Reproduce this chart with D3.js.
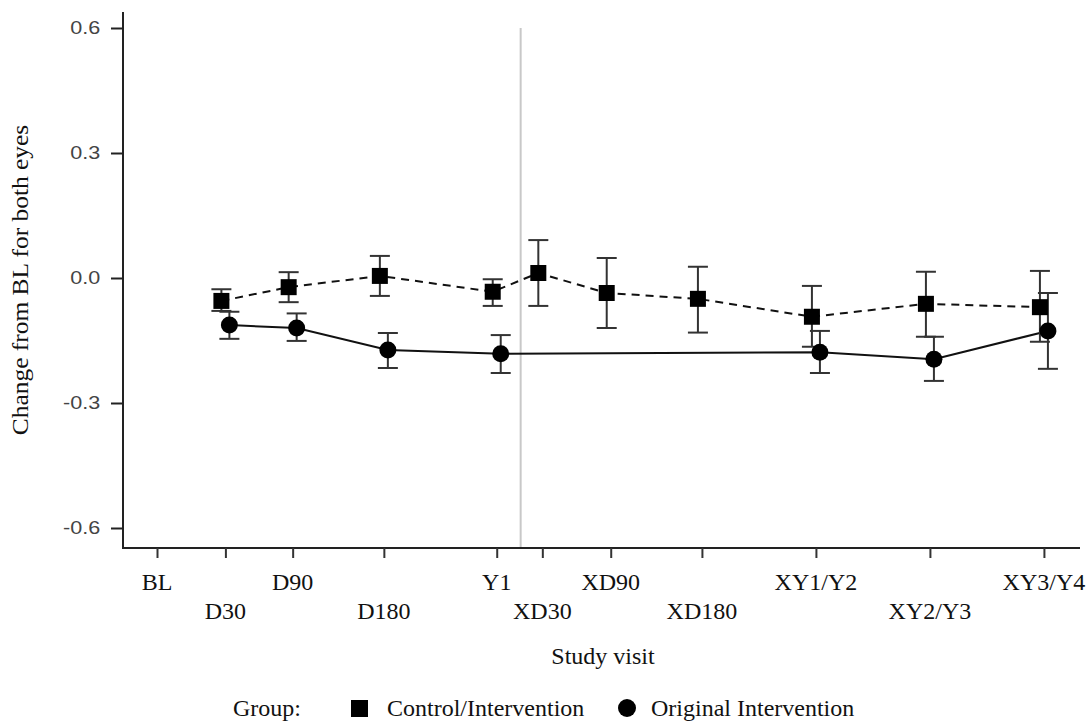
<!DOCTYPE html>
<html>
<head>
<meta charset="utf-8">
<script src="https://cdn.jsdelivr.net/npm/d3@7"></script>
<style>
  body { margin: 0; background: #fff; }
  .serif { font-family: "Liberation Serif", "Times New Roman", serif; fill: #111; font-size: 24px; }
</style>
</head>
<body>
<div id="chart"></div>
<script>
// Study visits and their spacing along the x axis
var visits = ["BL", "D30", "D90", "D180", "Y1", "XD30", "XD90", "XD180", "XY1/Y2", "XY2/Y3", "XY3/Y4"];
var visitPos = [0, 0.6, 1.19, 1.99, 2.98, 3.38, 3.98, 4.78, 5.78, 6.78, 7.78];
var crossover = 3.19;

// Control/Intervention (squares)
var ctrlMean = [null, -0.055, -0.022, 0.005, -0.033, 0.012, -0.036, -0.050, -0.093, -0.062, -0.070];
var ctrlLow  = [null, -0.079, -0.058, -0.043, -0.067, -0.067, -0.120, -0.131, -0.165, -0.141, -0.153];
var ctrlHigh = [null, -0.027, 0.014, 0.053, -0.003, 0.091, 0.048, 0.027, -0.019, 0.015, 0.017];

// Original Intervention (circles)
var origMean = [null, -0.113, -0.120, -0.173, -0.182, null, null, null, -0.178, -0.195, -0.127];
var origLow  = [null, -0.146, -0.151, -0.216, -0.228, null, null, null, -0.228, -0.247, -0.218];
var origHigh = [null, -0.081, -0.085, -0.132, -0.137, null, null, null, -0.127, -0.141, -0.036];

var yTicks = [-0.6, -0.3, 0.0, 0.3, 0.6];

var width = 1088, height = 722;
var plotLeft = 123, plotRight = 1080, plotTop = 12, plotBottom = 548;

var svg = d3.select("#chart")
    .append("svg")
    .attr("width", width)
    .attr("height", height);

svg.append("rect").attr("width", width).attr("height", height).attr("fill", "#fff");

var x = d3.scaleLinear()
    .domain([(plotLeft - 157) / 114, (plotRight - 157) / 114])
    .range([plotLeft, plotRight]);

var y = d3.scaleLinear()
    .domain([-0.6, 0.6])
    .range([528, 28]);

// crossover line
svg.append("line")
    .attr("x1", x(crossover)).attr("x2", x(crossover))
    .attr("y1", y(0.6)).attr("y2", plotBottom)
    .attr("stroke", "#c8c8c8")
    .attr("stroke-width", 2);

// y axis
var yAxis = svg.append("g")
    .attr("transform", "translate(" + plotLeft + ",0)")
    .call(d3.axisLeft(y).tickValues(yTicks).tickSize(12).tickPadding(7)
        .tickFormat(function(d) { return d3.format(".1f")(d).replace("\u2212", "-"); }));
yAxis.select(".domain").attr("d", "M0," + plotTop + "V" + (plotBottom + 1)).attr("stroke", "#222").attr("stroke-width", 2);
yAxis.selectAll(".tick line").attr("stroke", "#222").attr("stroke-width", 2);
yAxis.selectAll(".tick text")
    .attr("transform", "scale(1.2,1)")
    .style("font-family", "'Liberation Sans', Arial, sans-serif")
    .style("font-size", "18px")
    .attr("fill", "#444");

// x axis
var xAxis = svg.append("g")
    .attr("transform", "translate(0," + plotBottom + ")")
    .call(d3.axisBottom(x).tickValues(visitPos).tickSize(10).tickFormat(""));
xAxis.select(".domain").attr("d", "M" + plotLeft + ",0H" + plotRight).attr("stroke", "#222").attr("stroke-width", 2);
xAxis.selectAll(".tick line").attr("stroke", "#333").attr("stroke-width", 2);

// staggered tick labels
svg.append("g").selectAll("text")
    .data(visits)
    .join("text")
    .attr("class", "serif")
    .attr("x", function(d, i) { return x(visitPos[i]); })
    .attr("y", function(d, i) { return i % 2 == 0 ? 590 : 619; })
    .attr("text-anchor", "middle")
    .text(function(d) { return d; });

// axis titles
svg.append("text")
    .attr("class", "serif")
    .attr("x", 603).attr("y", 664)
    .attr("text-anchor", "middle")
    .text("Study visit");

svg.append("text")
    .attr("class", "serif")
    .attr("transform", "translate(28,280) rotate(-90) scale(1.06,1)")
    .attr("text-anchor", "middle")
    .text("Change from BL for both eyes");

// build series
function series(mean, low, high, shift) {
    var out = [];
    visits.forEach(function(v, i) {
        if (mean[i] != null) out.push({ px: x(visitPos[i]) + shift, m: mean[i], lo: low[i], hi: high[i] });
    });
    return out;
}
var ctrl = series(ctrlMean, ctrlLow, ctrlHigh, -4);
var orig = series(origMean, origLow, origHigh, 4);

var line = d3.line()
    .x(function(d) { return d.px; })
    .y(function(d) { return y(d.m); });

svg.append("path").datum(ctrl)
    .attr("d", line).attr("fill", "none")
    .attr("stroke", "#111").attr("stroke-width", 2)
    .attr("stroke-dasharray", "8,6");

svg.append("path").datum(orig)
    .attr("d", line).attr("fill", "none")
    .attr("stroke", "#111").attr("stroke-width", 2);

// error bars
function errBars(data) {
    var g = svg.append("g").attr("stroke", "#333").attr("stroke-width", 2);
    g.selectAll(".stem").data(data).join("line")
        .attr("x1", function(d) { return d.px; }).attr("x2", function(d) { return d.px; })
        .attr("y1", function(d) { return y(d.lo); }).attr("y2", function(d) { return y(d.hi); });
    g.selectAll(".capL").data(data).join("line")
        .attr("x1", function(d) { return d.px - 10; }).attr("x2", function(d) { return d.px + 10; })
        .attr("y1", function(d) { return y(d.lo); }).attr("y2", function(d) { return y(d.lo); });
    g.selectAll(".capH").data(data).join("line")
        .attr("x1", function(d) { return d.px - 10; }).attr("x2", function(d) { return d.px + 10; })
        .attr("y1", function(d) { return y(d.hi); }).attr("y2", function(d) { return y(d.hi); });
}
errBars(ctrl);
errBars(orig);

// markers
svg.append("g").selectAll("rect").data(ctrl).join("rect")
    .attr("x", function(d) { return d.px - 8; })
    .attr("y", function(d) { return y(d.m) - 8; })
    .attr("width", 16).attr("height", 16)
    .attr("fill", "#000");

svg.append("g").selectAll("circle").data(orig).join("circle")
    .attr("cx", function(d) { return d.px; })
    .attr("cy", function(d) { return y(d.m); })
    .attr("r", 8.5)
    .attr("fill", "#000");

// legend
var legend = svg.append("g");
legend.append("text").attr("class", "serif")
    .attr("x", 233).attr("y", 716).text("Group:");
legend.append("rect").attr("x", 351).attr("y", 700).attr("width", 17).attr("height", 17).attr("fill", "#000");
legend.append("text").attr("class", "serif")
    .attr("x", 387).attr("y", 716).text("Control/Intervention");
legend.append("circle").attr("cx", 627).attr("cy", 708).attr("r", 9).attr("fill", "#000");
legend.append("text").attr("class", "serif")
    .attr("x", 651).attr("y", 716).text("Original Intervention");
</script>
</body>
</html>
